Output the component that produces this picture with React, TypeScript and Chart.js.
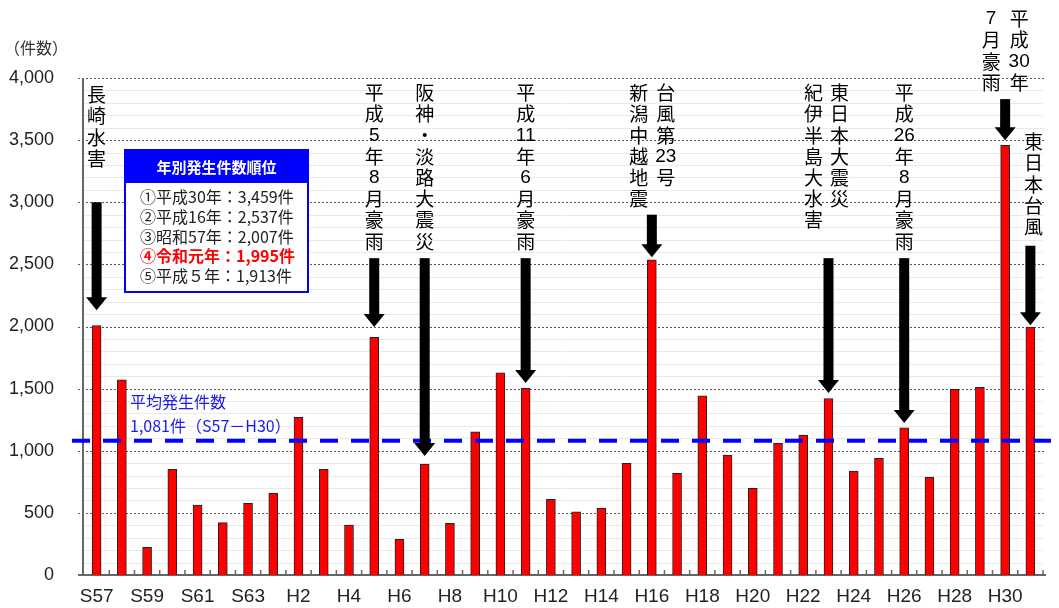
import React, { useEffect, useRef } from 'react';
import { Chart, registerables } from 'chart.js';

Chart.register(...registerables);

// ---- data ----
const years = [
  'S57', 'S58', 'S59', 'S60', 'S61', 'S62', 'S63',
  'H1', 'H2', 'H3', 'H4', 'H5', 'H6', 'H7', 'H8', 'H9', 'H10',
  'H11', 'H12', 'H13', 'H14', 'H15', 'H16', 'H17', 'H18', 'H19', 'H20',
  'H21', 'H22', 'H23', 'H24', 'H25', 'H26', 'H27', 'H28', 'H29', 'H30',
  'R1',
];
const counts = [
  2007, 1570, 223, 850, 563, 421, 576,
  657, 1269, 850, 402, 1913, 287, 893, 416, 1153, 1628,
  1502, 609, 509, 536, 899, 2537, 818, 1443, 965, 697,
  1059, 1126, 1420, 837, 939, 1185, 786, 1494, 1510, 3459,
  1995,
];
const shownLabels = [
  'S57', 'S59', 'S61', 'S63', 'H2', 'H4', 'H6', 'H8', 'H10', 'H12', 'H14',
  'H16', 'H18', 'H20', 'H22', 'H24', 'H26', 'H28', 'H30',
];
const yTickValues = [0, 500, 1000, 1500, 2000, 2500, 3000, 3500, 4000];
const averageCount = 1081;
const averageLines = ['平均発生件数', '1,081件（S57－H30）'];
const rankingTitle = '年別発生件数順位';
const rankingLines = [
  '①平成30年：3,459件',
  '②平成16年：2,537件',
  '③昭和57年：2,007件',
  '④令和元年：1,995件',
  '⑤平成５年：1,913件',
];
const rankingHighlight = 3;
const unitLabel = '（件数）';

// events: arrow from value -> to value, text columns (tokens stacked vertically)
const events = [
  { year: 'S57', from: 3000, to: 2130, cols: [['長', '崎', '水', '害']] },
  { year: 'H5', from: 2550, to: 1995, cols: [['平', '成', '5', '年', '8', '月', '豪', '雨']] },
  { year: 'H7', from: 2550, to: 957, cols: [['阪', '神', '・', '淡', '路', '大', '震', '災']] },
  { year: 'H11', from: 2550, to: 1545, cols: [['平', '成', '11', '年', '6', '月', '豪', '雨']] },
  { year: 'H16', from: 2900, to: 2558, cols: [['新', '潟', '中', '越', '地', '震'], ['台', '風', '第', '23', '号']] },
  { year: 'H23', from: 2550, to: 1464, cols: [['紀', '伊', '半', '島', '大', '水', '害'], ['東', '日', '本', '大', '震', '災']] },
  { year: 'H26', from: 2550, to: 1223, cols: [['平', '成', '26', '年', '8', '月', '豪', '雨']] },
  { year: 'H30', from: 3830, to: 3500, cols: [['7', '月', '豪', '雨'], ['平', '成', '30', '年']] },
  { year: 'R1', from: 2650, to: 2011, cols: [['東', '日', '本', '台', '風']] },
];

// ---- layout / style (not data) ----
const textTopPx: Record<string, number> = { S57: 95, H30: 19, R1: 142 };
const defaultTextTop = 93;
const colOffsets: Record<string, number[]> = { H16: [-13, 14], H23: [-15, 11], H30: [-14, 14], R1: [3] };
const latinFont = '"Liberation Sans", Arial, sans-serif';
const jpFont = '"Noto Sans CJK JP", "Liberation Sans", sans-serif';

const overlayPlugin = {
  id: 'overlay',
  beforeDatasetsDraw(chart: any) {
    const { ctx, chartArea } = chart;
    const y = chart.scales.y;
    const x = chart.scales.x;
    const L = chartArea.left, R = chartArea.right, B = chartArea.bottom;
    ctx.save();
    ctx.strokeStyle = '#e9e9e9';
    ctx.lineWidth = 1;
    for (let v = 100; v < 4000; v += 100) {
      if (v % 500 === 0) continue;
      const py = Math.round(y.getPixelForValue(v)) + 0.5;
      ctx.beginPath();
      ctx.moveTo(L, py);
      ctx.lineTo(R, py);
      ctx.stroke();
    }
    ctx.strokeStyle = '#555';
    ctx.setLineDash([2, 2]);
    yTickValues.forEach((v) => {
      if (v === 0) return;
      const py = Math.round(y.getPixelForValue(v)) + 0.5;
      ctx.beginPath();
      ctx.moveTo(L - 6, py);
      ctx.lineTo(R + 1, py);
      ctx.stroke();
    });
    ctx.setLineDash([]);
    ctx.strokeStyle = '#666';
    ctx.lineWidth = 2;
    ctx.beginPath();
    ctx.moveTo(L - 1, y.getPixelForValue(4000));
    ctx.lineTo(L - 1, B);
    ctx.stroke();
    ctx.beginPath();
    ctx.moveTo(L - 6, B);
    ctx.lineTo(R + 3, B);
    ctx.stroke();
    ctx.lineWidth = 1.5;
    for (let i = 0; i < years.length; i++) {
      const px = x.getPixelForValue(i) + (x.getPixelForValue(1) - x.getPixelForValue(0)) / 2;
      ctx.beginPath();
      ctx.moveTo(px, B);
      ctx.lineTo(px, B - 5);
      ctx.stroke();
    }
    ctx.restore();
  },
  afterDatasetsDraw(chart: any) {
    const { ctx, chartArea } = chart;
    const y = chart.scales.y;
    const x = chart.scales.x;
    ctx.save();

    const ay = y.getPixelForValue(averageCount);
    ctx.strokeStyle = '#0000ff';
    ctx.lineWidth = 4;
    ctx.setLineDash([18, 13]);
    ctx.beginPath();
    ctx.moveTo(chartArea.left - 12, ay);
    ctx.lineTo(chart.width, ay);
    ctx.stroke();
    ctx.setLineDash([]);

    events.forEach((ev) => {
      const idx = years.indexOf(ev.year);
      const cx = x.getPixelForValue(idx);
      const top = y.getPixelForValue(ev.from);
      const tip = y.getPixelForValue(ev.to);
      const headH = 13;
      ctx.fillStyle = '#000';
      ctx.fillRect(cx - 5, top, 10, tip - headH - top + 1);
      ctx.beginPath();
      ctx.moveTo(cx - 10.5, tip - headH);
      ctx.lineTo(cx + 10.5, tip - headH);
      ctx.lineTo(cx, tip);
      ctx.closePath();
      ctx.fill();

      const offs = colOffsets[ev.year] || (ev.cols.length === 2 ? [-13, 13] : [0]);
      const t0 = textTopPx[ev.year] ?? defaultTextTop;
      ctx.fillStyle = '#000';
      ctx.textAlign = 'center';
      ctx.textBaseline = 'middle';
      ev.cols.forEach((col, ci) => {
        col.forEach((tok, ti) => {
          const isDigit = /^[0-9]+$/.test(tok);
          ctx.font = isDigit ? `19px ${latinFont}` : `19px ${jpFont}`;
          ctx.fillText(tok, cx + offs[ci], t0 + ti * 21.2);
        });
      });
    });

    const bx = 125, by = 150, bw = 183, bh = 142, hh = 33;
    ctx.fillStyle = '#ffffff';
    ctx.fillRect(bx, by, bw, bh);
    ctx.fillStyle = '#0000ff';
    ctx.fillRect(bx, by, bw, hh);
    ctx.strokeStyle = '#0000ff';
    ctx.lineWidth = 2;
    ctx.strokeRect(bx, by, bw, bh);
    ctx.fillStyle = '#ffffff';
    ctx.font = `bold 15px ${jpFont}`;
    ctx.textAlign = 'center';
    ctx.textBaseline = 'middle';
    ctx.fillText(rankingTitle, bx + bw / 2, by + hh / 2 + 1);
    ctx.textAlign = 'left';
    rankingLines.forEach((line, i) => {
      const hl = i === rankingHighlight;
      ctx.fillStyle = hl ? '#ff0000' : '#222';
      ctx.font = `${hl ? 'bold ' : ''}16px ${jpFont}`;
      ctx.fillText(line, bx + 15, by + 47 + i * 19.8);
    });

    ctx.fillStyle = '#1a1aee';
    ctx.font = `16px ${jpFont}`;
    ctx.textAlign = 'left';
    averageLines.forEach((line, i) => {
      ctx.fillText(line, 130, 402 + i * 24);
    });

    ctx.fillStyle = '#333';
    ctx.font = `16px ${jpFont}`;
    ctx.fillText(unitLabel, 4, 48);

    ctx.restore();
  },
};

export default function App() {
  const ref = useRef<HTMLCanvasElement | null>(null);
  useEffect(() => {
    document.body.style.margin = '0';
    if (!ref.current) return;
    const chart = new Chart(ref.current, {
      type: 'bar',
      data: {
        labels: years,
        datasets: [
          {
            data: counts,
            backgroundColor: '#ff0000',
            borderColor: '#222',
            borderWidth: 1,
            barThickness: 9,
          },
        ],
      },
      options: {
        animation: false,
        responsive: true,
        maintainAspectRatio: false,
        layout: { padding: { top: 78, right: 16, left: 0, bottom: 0 } },
        plugins: { legend: { display: false }, tooltip: { enabled: false } },
        scales: {
          x: {
            type: 'category',
            grid: { display: false },
            border: { display: false },
            ticks: {
              autoSkip: false,
              maxRotation: 0,
              minRotation: 0,
              padding: 2,
              color: '#222',
              font: { family: latinFont, size: 19 },
              callback: (_v: any, i: number) => (shownLabels.includes(years[i]) ? years[i] : ''),
            },
            afterFit: (s: any) => { s.height = 33; },
          },
          y: {
            min: 0,
            max: 4000,
            grid: { display: false },
            border: { display: false },
            afterBuildTicks: (s: any) => { s.ticks = yTickValues.map((v) => ({ value: v })); },
            ticks: {
              padding: 22,
              color: '#222',
              font: { family: latinFont, size: 18 },
              callback: (v: any) => Number(v).toLocaleString('en-US'),
            },
            afterFit: (s: any) => { s.width = 84; },
          },
        },
      },
      plugins: [overlayPlugin],
    });
    return () => chart.destroy();
  }, []);
  return (
    <div style={{ position: 'relative', width: '1059px', height: '608px' }}>
      <canvas ref={ref} />
    </div>
  );
}
